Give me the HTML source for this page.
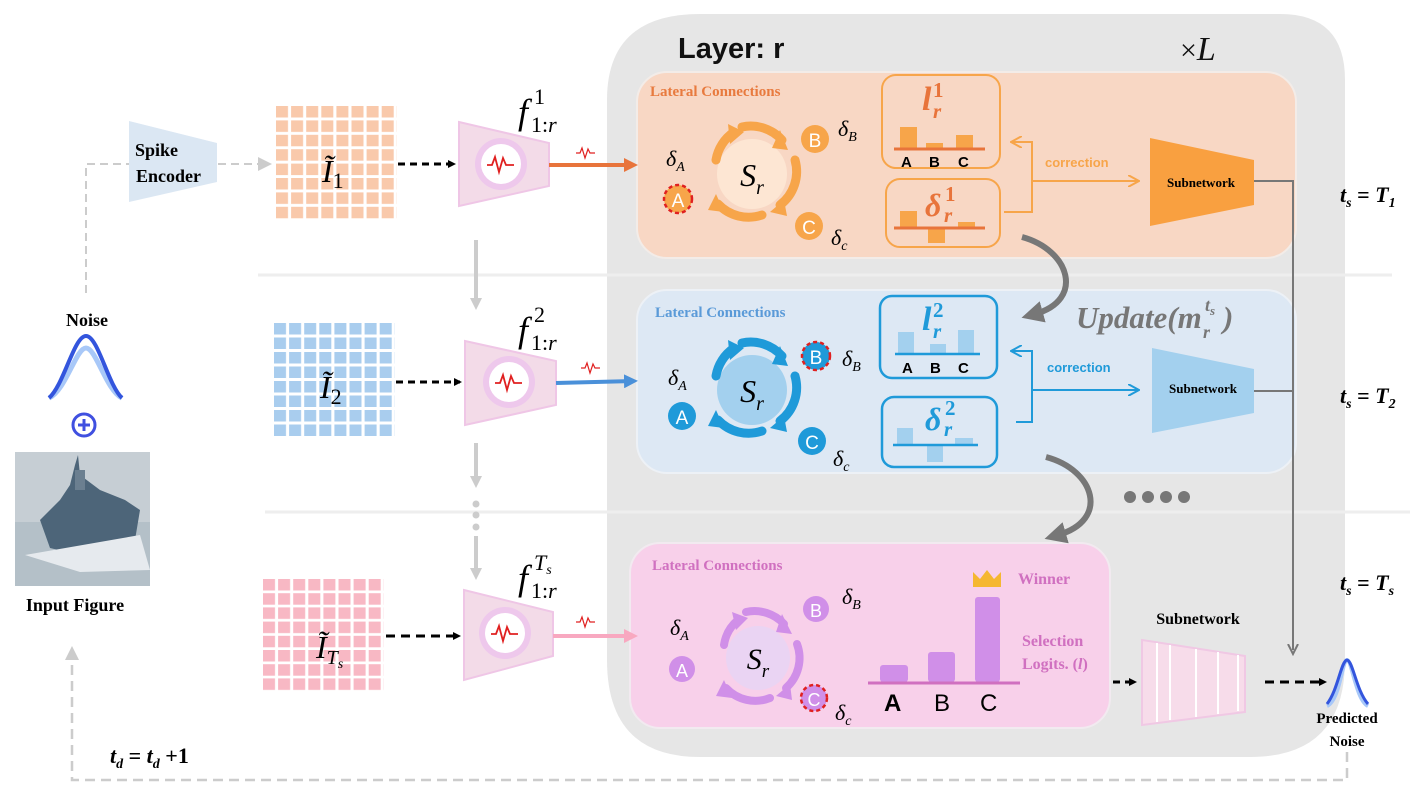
<!DOCTYPE html>
<html><head><meta charset="utf-8"><style>body{margin:0;background:#fff}svg{display:block}</style></head><body>
<svg width="1421" height="803" viewBox="0 0 1421 803" xmlns="http://www.w3.org/2000/svg" font-family="Liberation Sans, sans-serif">
<defs>
<marker id="ab" markerWidth="8" markerHeight="8" refX="6" refY="4" orient="auto" markerUnits="userSpaceOnUse"><path d="M0,0 L8,4 L0,8 z" fill="#000"/></marker>
<marker id="ag" markerWidth="14" markerHeight="14" refX="10" refY="7" orient="auto" markerUnits="userSpaceOnUse"><path d="M0,0 L14,7 L0,14 z" fill="#ccc"/></marker>
<marker id="agd" markerWidth="12" markerHeight="12" refX="6" refY="6" orient="auto" markerUnits="userSpaceOnUse"><path d="M0,1 L10,6 L0,11" fill="none" stroke="#777" stroke-width="2"/></marker>
<marker id="ac" markerWidth="22" markerHeight="22" refX="8" refY="11" orient="auto" markerUnits="userSpaceOnUse"><path d="M0,0 L22,11 L0,22 z" fill="#777"/></marker>
<marker id="ao" markerWidth="14" markerHeight="14" refX="10" refY="7" orient="auto" markerUnits="userSpaceOnUse"><path d="M0,0 L14,7 L0,14 z" fill="#e8743b"/></marker>
<marker id="abl" markerWidth="14" markerHeight="14" refX="10" refY="7" orient="auto" markerUnits="userSpaceOnUse"><path d="M0,0 L14,7 L0,14 z" fill="#4a90d9"/></marker>
<marker id="ap" markerWidth="14" markerHeight="14" refX="10" refY="7" orient="auto" markerUnits="userSpaceOnUse"><path d="M0,0 L14,7 L0,14 z" fill="#f8a8c0"/></marker>
<marker id="agr" markerWidth="12" markerHeight="12" refX="6" refY="6" orient="auto" markerUnits="userSpaceOnUse"><path d="M0,0 L12,6 L0,12 z" fill="#ccc"/></marker>
<marker id="aoo" markerWidth="12" markerHeight="12" refX="10" refY="6" orient="auto" markerUnits="userSpaceOnUse"><path d="M0,0 L11,6 L0,12" fill="none" stroke="#f7a54a" stroke-width="2"/></marker>
<marker id="abb" markerWidth="12" markerHeight="12" refX="10" refY="6" orient="auto" markerUnits="userSpaceOnUse"><path d="M0,0 L11,6 L0,12" fill="none" stroke="#1f9ad9" stroke-width="2"/></marker>
<pattern id="po" x="276" y="106" width="15.1" height="14.4" patternUnits="userSpaceOnUse"><rect width="12" height="11.5" fill="#f9c9ab"/></pattern>
<pattern id="pb" x="274" y="323" width="15.1" height="14.5" patternUnits="userSpaceOnUse"><rect width="12" height="11.5" fill="#a9cdee"/></pattern>
<pattern id="pp" x="263" y="579" width="15.1" height="14.2" patternUnits="userSpaceOnUse"><rect width="12" height="11.5" fill="#f8b8c4"/></pattern>
</defs>

<path d="M700,14 H1280 Q1345,14 1345,80 V660 Q1345,757 1250,757 H700 Q607,757 607,660 V100 Q607,14 700,14 Z" fill="#e6e6e6"/>
<line x1="258" y1="275" x2="1392" y2="275" stroke="#eeeeee" stroke-width="3"/>
<line x1="265" y1="512" x2="1410" y2="512" stroke="#eeeeee" stroke-width="3"/>

<text x="678" y="58" font-size="29" font-weight="bold" fill="#111">Layer: r</text>
<text x="1180" y="60" font-size="30" fill="#111" font-family="Liberation Serif, serif">×<tspan font-style="italic" font-size="34">L</tspan></text>

<rect x="637" y="72" width="659" height="186" rx="30" fill="#f8d7c4" stroke="#f3ece8" stroke-width="2"/>
<rect x="637" y="290" width="659" height="183" rx="30" fill="#dde8f4" stroke="#edf1f6" stroke-width="2"/>
<rect x="630" y="543" width="480" height="185" rx="30" fill="#f8d0ea" stroke="#f2eaf0" stroke-width="2"/>

<text x="650" y="96" font-size="15" font-weight="bold" fill="#e87a3e" font-family="Liberation Serif, serif">Lateral Connections</text>
<text x="655" y="317" font-size="15" font-weight="bold" fill="#5a9ad8" font-family="Liberation Serif, serif">Lateral Connections</text>
<text x="652" y="570" font-size="15" font-weight="bold" fill="#d070c0" font-family="Liberation Serif, serif">Lateral Connections</text>

<circle cx="752" cy="174" r="35" fill="#fde6d3"/>
<g fill="none" stroke="#f7a54a" stroke-width="9" stroke-linecap="round">
<path d="M716,160 A42,42 0 0 1 734,132"/><path d="M742,127 A42,42 0 0 1 782,140"/>
<path d="M795,160 A42,42 0 0 1 780,205"/><path d="M762,215 A42,42 0 0 1 718,204"/>
</g>
<g fill="#f7a54a"><path d="M728,124 L744,132 L730,144Z"/><path d="M780,130 L788,150 L772,148Z"/><path d="M770,212 L784,200 L787,216Z"/><path d="M716,194 L708,210 L724,212Z"/></g>
<text x="752" y="186" font-size="32" font-style="italic" font-family="Liberation Serif, serif" text-anchor="middle">S<tspan font-size="20" dy="8">r</tspan></text>
<circle cx="815" cy="139" r="14" fill="#f7a54a"/><text x="815" y="147" font-size="19" fill="#fff" text-anchor="middle">B</text>
<circle cx="678" cy="199" r="14" fill="#f7a54a" stroke="#e02020" stroke-width="2.5" stroke-dasharray="4,3"/><text x="678" y="207" font-size="19" fill="#fff" text-anchor="middle">A</text>
<circle cx="809" cy="226" r="14" fill="#f7a54a"/><text x="809" y="234" font-size="19" fill="#fff" text-anchor="middle">C</text>
<g font-family="Liberation Serif, serif" font-style="italic" font-size="22">
<text x="666" y="166">δ<tspan font-size="14" dy="5">A</tspan></text>
<text x="838" y="136">δ<tspan font-size="14" dy="5">B</tspan></text>
<text x="831" y="245">δ<tspan font-size="14" dy="5">c</tspan></text>
</g>

<g font-family="Liberation Serif, serif" font-weight="bold" font-style="italic">
<rect x="882" y="75" width="118" height="93" rx="14" fill="none" stroke="#f7a54a" stroke-width="2"/>
<text x="922" y="110" font-size="34" fill="#e8743b">l</text><text x="933" y="118" font-size="21" fill="#e8743b">r</text><text x="933" y="97" font-size="21" font-style="normal" fill="#e8743b">1</text>
<rect x="886" y="179" width="114" height="68" rx="14" fill="none" stroke="#f7a54a" stroke-width="2"/>
<text x="925" y="216" font-size="32" fill="#e8743b">δ</text><text x="944" y="222" font-size="21" fill="#e8743b">r</text><text x="945" y="201" font-size="21" font-style="normal" fill="#e8743b">1</text>
</g>
<rect x="900" y="127" width="17" height="21" fill="#f7a54a"/><rect x="926" y="143" width="17" height="5" fill="#f7a54a"/><rect x="956" y="135" width="17" height="13" fill="#f7a54a"/>
<line x1="894" y1="149" x2="985" y2="149" stroke="#e8743b" stroke-width="3"/>
<text x="901" y="167" font-size="15" font-weight="bold">A</text><text x="929" y="167" font-size="15" font-weight="bold">B</text><text x="958" y="167" font-size="15" font-weight="bold">C</text>
<rect x="900" y="211" width="17" height="17" fill="#f7a54a"/><rect x="928" y="228" width="17" height="15" fill="#f7a54a"/><rect x="958" y="222" width="17" height="6" fill="#f7a54a"/>
<line x1="894" y1="228" x2="985" y2="228" stroke="#e8743b" stroke-width="3"/>
<path d="M1004,212 H1032 V142 H1012" fill="none" stroke="#f7a54a" stroke-width="2" marker-end="url(#aoo)"/>
<path d="M1032,181 H1138" fill="none" stroke="#f7a54a" stroke-width="2" marker-end="url(#aoo)"/>
<text x="1045" y="167" font-size="13" font-weight="bold" fill="#f7a54a">correction</text>
<path d="M1150,138 L1254,160 L1254,205 L1150,226Z" fill="#f9a040"/>
<text x="1201" y="187" font-size="13" font-weight="bold" text-anchor="middle" font-family="Liberation Serif, serif">Subnetwork</text>

<circle cx="752" cy="390" r="35" fill="#a3d0ee"/>
<g fill="none" stroke="#1f9ad9" stroke-width="9" stroke-linecap="round">
<path d="M716,376 A42,42 0 0 1 734,348"/><path d="M742,343 A42,42 0 0 1 782,356"/>
<path d="M795,376 A42,42 0 0 1 780,421"/><path d="M762,431 A42,42 0 0 1 718,420"/>
</g>
<g fill="#1f9ad9"><path d="M728,340 L744,348 L730,360Z"/><path d="M780,346 L788,366 L772,364Z"/><path d="M770,428 L784,416 L787,432Z"/><path d="M716,410 L708,426 L724,428Z"/></g>
<text x="752" y="402" font-size="32" font-style="italic" font-family="Liberation Serif, serif" text-anchor="middle">S<tspan font-size="20" dy="8">r</tspan></text>
<circle cx="816" cy="356" r="14" fill="#1f9ad9" stroke="#e02020" stroke-width="2.5" stroke-dasharray="4,3"/><text x="816" y="364" font-size="19" fill="#fff" text-anchor="middle">B</text>
<circle cx="682" cy="416" r="14" fill="#1f9ad9"/><text x="682" y="424" font-size="19" fill="#fff" text-anchor="middle">A</text>
<circle cx="812" cy="441" r="14" fill="#1f9ad9"/><text x="812" y="449" font-size="19" fill="#fff" text-anchor="middle">C</text>
<g font-family="Liberation Serif, serif" font-style="italic" font-size="22">
<text x="668" y="385">δ<tspan font-size="14" dy="5">A</tspan></text>
<text x="842" y="366">δ<tspan font-size="14" dy="5">B</tspan></text>
<text x="833" y="466">δ<tspan font-size="14" dy="5">c</tspan></text>
</g>
<g font-family="Liberation Serif, serif" font-weight="bold" font-style="italic">
<rect x="880" y="296" width="117" height="82" rx="12" fill="none" stroke="#1f9ad9" stroke-width="2.5"/>
<text x="922" y="330" font-size="34" fill="#1f9ad9">l</text><text x="933" y="338" font-size="21" fill="#1f9ad9">r</text><text x="933" y="317" font-size="21" font-style="normal" fill="#1f9ad9">2</text>
<rect x="882" y="397" width="115" height="70" rx="12" fill="none" stroke="#1f9ad9" stroke-width="2.5"/>
<text x="925" y="430" font-size="32" fill="#1f9ad9">δ</text><text x="944" y="436" font-size="21" fill="#1f9ad9">r</text><text x="945" y="415" font-size="21" font-style="normal" fill="#1f9ad9">2</text>
</g>
<rect x="898" y="332" width="16" height="22" fill="#a3d0ee"/><rect x="930" y="344" width="16" height="10" fill="#a3d0ee"/><rect x="958" y="330" width="16" height="24" fill="#a3d0ee"/>
<line x1="895" y1="354" x2="980" y2="354" stroke="#1f9ad9" stroke-width="2.5"/>
<text x="902" y="373" font-size="15" font-weight="bold">A</text><text x="930" y="373" font-size="15" font-weight="bold">B</text><text x="958" y="373" font-size="15" font-weight="bold">C</text>
<rect x="897" y="428" width="16" height="17" fill="#a3d0ee"/><rect x="927" y="445" width="16" height="17" fill="#a3d0ee"/><rect x="955" y="438" width="18" height="7" fill="#a3d0ee"/>
<line x1="893" y1="445" x2="978" y2="445" stroke="#1f9ad9" stroke-width="2.5"/>
<path d="M1016,422 H1032 V351 H1012" fill="none" stroke="#1f9ad9" stroke-width="2" marker-end="url(#abb)"/>
<path d="M1032,390 H1138" fill="none" stroke="#1f9ad9" stroke-width="2" marker-end="url(#abb)"/>
<text x="1047" y="372" font-size="13" font-weight="bold" fill="#1f9ad9">correction</text>
<path d="M1152,348 L1254,369 L1254,413 L1152,433Z" fill="#a3d0ee"/>
<text x="1203" y="393" font-size="13" font-weight="bold" text-anchor="middle" font-family="Liberation Serif, serif">Subnetwork</text>

<g font-family="Liberation Serif, serif" font-weight="bold" font-style="italic" fill="#777">
<text x="1076" y="328" font-size="31">Update(m</text>
<text x="1203" y="338" font-size="18">r</text>
<text x="1205" y="311" font-size="18">t<tspan font-size="13" dy="4">s</tspan></text>
<text x="1223" y="328" font-size="31">)</text>
</g>

<path d="M1254,181 H1293 V650" fill="none" stroke="#777" stroke-width="2" marker-end="url(#agd)"/>
<path d="M1254,391 H1293" fill="none" stroke="#777" stroke-width="2"/>

<path d="M1022,237 C1070,250 1085,300 1035,314" fill="none" stroke="#777" stroke-width="6" marker-end="url(#ac)"/>
<path d="M1046,457 C1095,470 1110,520 1058,535" fill="none" stroke="#777" stroke-width="6" marker-end="url(#ac)"/>
<g fill="#777"><circle cx="1130" cy="497" r="6"/><circle cx="1148" cy="497" r="6"/><circle cx="1166" cy="497" r="6"/><circle cx="1184" cy="497" r="6"/></g>

<circle cx="758" cy="658" r="32" fill="#ead4f3"/>
<g fill="none" stroke="#d08fe8" stroke-width="8" stroke-linecap="round">
<path d="M724,645 A40,40 0 0 1 738,620"/><path d="M746,612 A40,40 0 0 1 784,624"/>
<path d="M797,644 A40,40 0 0 1 786,688"/><path d="M770,698 A40,40 0 0 1 726,688"/>
</g>
<g fill="#d08fe8"><path d="M732,612 L748,618 L736,630Z"/><path d="M782,614 L792,634 L776,632Z"/><path d="M776,696 L790,684 L792,700Z"/><path d="M724,680 L716,696 L732,698Z"/></g>
<text x="758" y="669" font-size="30" font-style="italic" font-family="Liberation Serif, serif" text-anchor="middle">S<tspan font-size="19" dy="8">r</tspan></text>
<circle cx="816" cy="609" r="13" fill="#d08fe8"/><text x="816" y="617" font-size="18" fill="#fff" text-anchor="middle">B</text>
<circle cx="682" cy="669" r="13" fill="#d08fe8"/><text x="682" y="677" font-size="18" fill="#fff" text-anchor="middle">A</text>
<circle cx="814" cy="698" r="13" fill="#d08fe8" stroke="#e02020" stroke-width="2.5" stroke-dasharray="4,3"/><text x="814" y="706" font-size="18" fill="#fff" text-anchor="middle">C</text>
<g font-family="Liberation Serif, serif" font-style="italic" font-size="22">
<text x="670" y="635">δ<tspan font-size="14" dy="5">A</tspan></text>
<text x="842" y="604">δ<tspan font-size="14" dy="5">B</tspan></text>
<text x="835" y="720">δ<tspan font-size="14" dy="5">c</tspan></text>
</g>
<rect x="880" y="665" width="28" height="17" rx="3" fill="#d08fe8"/><rect x="928" y="652" width="27" height="30" rx="3" fill="#d08fe8"/><rect x="975" y="597" width="25" height="85" rx="3" fill="#d08fe8"/>
<line x1="868" y1="683" x2="1020" y2="683" stroke="#d070c0" stroke-width="3"/>
<text x="884" y="711" font-size="24" font-weight="bold">A</text><text x="934" y="711" font-size="24">B</text><text x="980" y="711" font-size="24">C</text>
<path d="M973,587 L973,572 L980,579 L987,570 L994,579 L1001,572 L1001,587Z" fill="#f5b731"/>
<text x="1018" y="584" font-size="16" font-weight="bold" fill="#d070c0" font-family="Liberation Serif, serif">Winner</text>
<text x="1022" y="646" font-size="16" font-weight="bold" fill="#d070c0" font-family="Liberation Serif, serif">Selection</text>
<text x="1022" y="669" font-size="16" font-weight="bold" fill="#d070c0" font-family="Liberation Serif, serif">Logits. (<tspan font-style="italic">l</tspan>)</text>

<text x="1198" y="624" font-size="16" font-weight="bold" text-anchor="middle" font-family="Liberation Serif, serif">Subnetwork</text>
<path d="M1142,640 L1245,656 L1245,712 L1142,725Z" fill="#f7dcea" stroke="#f0c8e4" stroke-width="2"/>
<g stroke="#fff" stroke-width="2"><line x1="1157" y1="643" x2="1157" y2="722"/><line x1="1170" y1="645" x2="1170" y2="720"/><line x1="1196" y1="649" x2="1196" y2="717"/><line x1="1218" y1="652" x2="1218" y2="714"/><line x1="1238" y1="655" x2="1238" y2="711"/></g>
<line x1="1113" y1="682" x2="1135" y2="682" stroke="#000" stroke-width="3" stroke-dasharray="7,5" marker-end="url(#ab)"/>
<line x1="1265" y1="682" x2="1325" y2="682" stroke="#000" stroke-width="3" stroke-dasharray="9,6" marker-end="url(#ab)"/>

<path d="M1327,706 C1340,700 1342,660 1347,660 C1352,660 1356,700 1368,706" fill="none" stroke="#a8c8f8" stroke-width="4"/>
<path d="M1327,704 C1338,690 1341,661 1347,660 C1353,661 1356,690 1368,704" fill="none" stroke="#3355dd" stroke-width="3"/>
<g font-family="Liberation Serif, serif" font-weight="bold" font-size="15" text-anchor="middle"><text x="1347" y="723">Predicted</text><text x="1347" y="746">Noise</text></g>

<g font-family="Liberation Serif, serif" font-weight="bold" font-style="italic" font-size="22">
<text x="1340" y="202">t<tspan font-size="14" dy="5">s</tspan><tspan dy="-5" font-style="normal"> = </tspan>T<tspan font-size="14" dy="5">1</tspan></text>
<text x="1340" y="403">t<tspan font-size="14" dy="5">s</tspan><tspan dy="-5" font-style="normal"> = </tspan>T<tspan font-size="14" dy="5">2</tspan></text>
<text x="1340" y="590">t<tspan font-size="14" dy="5">s</tspan><tspan dy="-5" font-style="normal"> = </tspan>T<tspan font-size="14" dy="5">s</tspan></text>
<text x="110" y="763">t<tspan font-size="14" dy="5">d</tspan><tspan dy="-5" font-style="normal"> = </tspan>t<tspan font-size="14" dy="5">d</tspan><tspan dy="-5" font-style="normal"> +1</tspan></text>
</g>

<path d="M1347,752 V780 H72 V650" fill="none" stroke="#ccc" stroke-width="2.5" stroke-dasharray="10,6" marker-end="url(#ag)"/>

<text x="87" y="326" font-size="18" font-weight="bold" text-anchor="middle" font-family="Liberation Serif, serif">Noise</text>
<path d="M49,398 C66,390 76,348 86,348 C96,348 106,390 122,398" fill="none" stroke="#a8c8f8" stroke-width="5"/>
<path d="M49,398 C64,385 74,336 86,336 C98,336 108,385 122,398" fill="none" stroke="#3355dd" stroke-width="4"/>
<circle cx="84" cy="425" r="11" fill="none" stroke="#4050e0" stroke-width="3"/>
<path d="M78,425 H90 M84,419 V431" stroke="#4050e0" stroke-width="3"/>
<rect x="15" y="452" width="135" height="134" fill="#b4c0c8"/>
<rect x="15" y="452" width="135" height="70" fill="#c6ced4"/>
<path d="M40,520 L60,500 L70,485 L75,465 L78,455 L80,475 L100,490 L125,500 L140,510 L135,540 L100,560 L50,548 Z" fill="#4d6579"/>
<path d="M75,470 h10 v20 h-10z" fill="#6b7f90"/>
<path d="M25,555 L140,535 L150,570 L80,572 Z" fill="#e6eaee"/>
<text x="75" y="611" font-size="18" font-weight="bold" text-anchor="middle" font-family="Liberation Serif, serif">Input Figure</text>

<path d="M86,293 V164 H129" fill="none" stroke="#ccc" stroke-width="2" stroke-dasharray="8,5"/>
<path d="M129,121 L217,143 L217,182 L129,202Z" fill="#dbe7f3"/>
<g font-family="Liberation Serif, serif" font-weight="bold" font-size="18"><text x="135" y="156">Spike</text><text x="136" y="182">Encoder</text></g>
<line x1="218" y1="164" x2="268" y2="164" stroke="#ccc" stroke-width="2" stroke-dasharray="8,5" marker-end="url(#ag)"/>

<rect x="276" y="106" width="121" height="115" fill="url(#po)"/>
<rect x="274" y="323" width="121" height="116" fill="url(#pb)"/>
<rect x="263" y="579" width="121" height="113" fill="url(#pp)"/>
<g font-family="Liberation Serif, serif" font-style="italic" font-size="32">
<text x="322" y="182">Ĩ<tspan font-style="normal" font-size="22" dy="6">1</tspan></text>
<text x="320" y="398">Ĩ<tspan font-style="normal" font-size="22" dy="6">2</tspan></text>
<text x="316" y="658">Ĩ<tspan font-size="20" dy="6">T<tspan font-size="14" dy="4">s</tspan></tspan></text>
</g>
<line x1="398" y1="164" x2="454" y2="164" stroke="#000" stroke-width="3" stroke-dasharray="7,5" marker-end="url(#ab)"/>
<line x1="396" y1="382" x2="460" y2="382" stroke="#000" stroke-width="3" stroke-dasharray="7,5" marker-end="url(#ab)"/>
<line x1="386" y1="636" x2="459" y2="636" stroke="#000" stroke-width="3" stroke-dasharray="9,6" marker-end="url(#ab)"/>

<line x1="476" y1="240" x2="476" y2="304" stroke="#ccc" stroke-width="4" marker-end="url(#agr)"/>
<line x1="476" y1="443" x2="476" y2="482" stroke="#ccc" stroke-width="4" marker-end="url(#agr)"/>
<g fill="#ccc"><circle cx="476" cy="504" r="3.5"/><circle cx="476" cy="515" r="3.5"/><circle cx="476" cy="527" r="3.5"/></g>
<line x1="476" y1="536" x2="476" y2="574" stroke="#ccc" stroke-width="4" marker-end="url(#agr)"/>

<path d="M459,122 L549,143 L549,186 L459,206Z" fill="#f3dbe8" stroke="#efc6e6" stroke-width="2"/>
<circle cx="501" cy="164" r="26" fill="#eec8ec"/><circle cx="501" cy="164" r="20" fill="#fff"/>
<path d="M487,165 h5 l3,-8 l4,15 l4,-14 l3,7 h8" fill="none" stroke="#e02020" stroke-width="1.8"/>
<path d="M465,341 L556,361 L556,405 L465,425Z" fill="#f3dbe8" stroke="#efc6e6" stroke-width="2"/>
<circle cx="509" cy="382" r="26" fill="#eec8ec"/><circle cx="509" cy="382" r="20" fill="#fff"/>
<path d="M495,383 h5 l3,-8 l4,15 l4,-14 l3,7 h8" fill="none" stroke="#e02020" stroke-width="1.8"/>
<path d="M464,590 L553,612 L553,656 L464,680Z" fill="#f3dbe8" stroke="#efc6e6" stroke-width="2"/>
<circle cx="505" cy="633" r="26" fill="#eec8ec"/><circle cx="505" cy="633" r="20" fill="#fff"/>
<path d="M491,634 h5 l3,-8 l4,15 l4,-14 l3,7 h8" fill="none" stroke="#e02020" stroke-width="1.8"/>

<g font-family="Liberation Serif, serif">
<text x="518" y="124" font-size="36" font-style="italic">f</text>
<text x="531" y="132" font-size="22">1:<tspan font-style="italic">r</tspan></text>
<text x="534" y="104" font-size="22">1</text>
<text x="518" y="342" font-size="36" font-style="italic">f</text>
<text x="531" y="350" font-size="22">1:<tspan font-style="italic">r</tspan></text>
<text x="534" y="322" font-size="22">2</text>
<text x="518" y="590" font-size="36" font-style="italic">f</text>
<text x="531" y="598" font-size="22">1:<tspan font-style="italic">r</tspan></text>
<text x="534" y="570" font-size="22" font-style="italic">T<tspan font-size="14" dy="4">s</tspan></text>
</g>
<line x1="549" y1="165" x2="634" y2="165" stroke="#e8743b" stroke-width="4" marker-end="url(#ao)"/>
<line x1="556" y1="383" x2="634" y2="381" stroke="#4a90d9" stroke-width="4" marker-end="url(#abl)"/>
<line x1="553" y1="636" x2="634" y2="636" stroke="#f8a8c0" stroke-width="4" marker-end="url(#ap)"/>
<g fill="none" stroke="#e02020" stroke-width="1.2">
<path d="M576,153 h4 l2,-5 l3,10 l3,-9 l2,4 h5"/>
<path d="M581,368 h4 l2,-5 l3,10 l3,-9 l2,4 h5"/>
<path d="M576,622 h4 l2,-5 l3,10 l3,-9 l2,4 h5"/>
</g>
</svg>
</body></html>
